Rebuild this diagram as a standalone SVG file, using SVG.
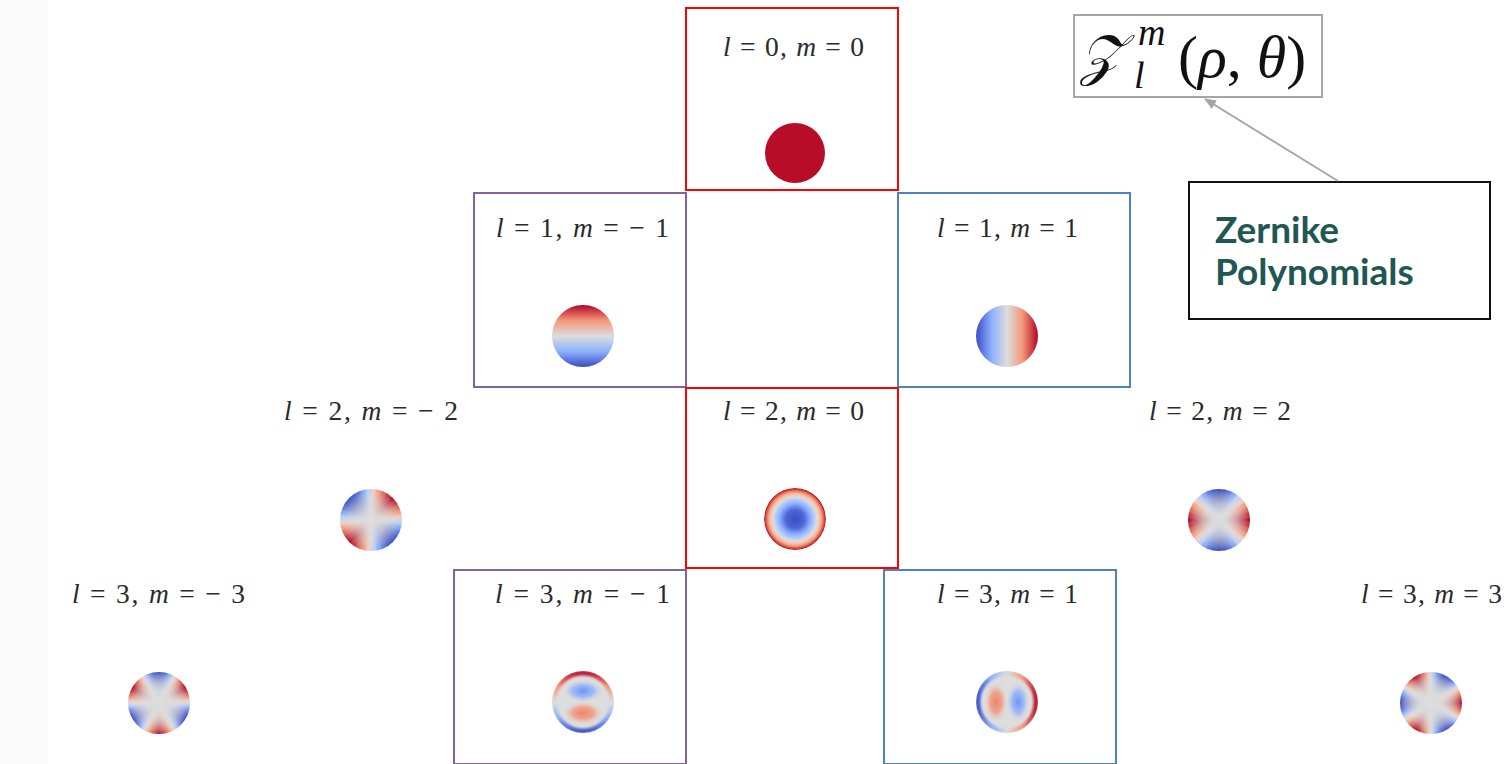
<svg xmlns="http://www.w3.org/2000/svg" xmlns:xlink="http://www.w3.org/1999/xlink" width="1506" height="764" viewBox="0 0 1506 764">
<style>
.lab{font-family:"Liberation Serif","DejaVu Serif",serif;font-size:27.5px;fill:#2a2a2a}
.i{font-style:italic}
.bx{fill:none;stroke-width:2}
.red{stroke:#ff0000}
.pur{stroke:#8064a2}
.blu{stroke:#4f81bd}
.zt{font-family:Lato,"Noto Sans",sans-serif;font-weight:700;font-size:37px;fill:#215753}
.fm{font-family:"Liberation Serif","DejaVu Serif","DejaVu Sans",serif;fill:#111}
.conn{fill:none;stroke:#a6a6a6;stroke-width:2}
</style>
<defs>
<marker id="ah" markerWidth="12" markerHeight="10" refX="11" refY="5" orient="auto" markerUnits="userSpaceOnUse"><path d="M0 0L12 5L0 10Z" fill="#a6a6a6"/></marker>
<clipPath id="cc"><circle r="31"/></clipPath>
<filter id="sf" x="-20%" y="-20%" width="140%" height="140%"><feGaussianBlur stdDeviation="0.8"/></filter>
<filter id="sf2" x="-20%" y="-20%" width="140%" height="140%"><feGaussianBlur stdDeviation="1"/></filter>
<path id="w2" d="M0 0L40 -3.8L40 3.8Z"/>
<path id="w3" d="M0 0L40 -2.4L40 2.4Z"/>
<g id="h2">
<use href="#w2" fill="#b40426"/>
<use href="#w2" transform="rotate(10)" fill="#c12b30"/>
<use href="#w2" transform="rotate(20)" fill="#e0654f"/>
<use href="#w2" transform="rotate(30)" fill="#f4987a"/>
<use href="#w2" transform="rotate(40)" fill="#efcfbf"/>
<use href="#w2" transform="rotate(50)" fill="#bad0f8"/>
<use href="#w2" transform="rotate(60)" fill="#80a3fa"/>
<use href="#w2" transform="rotate(70)" fill="#5572df"/>
<use href="#w2" transform="rotate(80)" fill="#4055c8"/>
<use href="#w2" transform="rotate(90)" fill="#3b4cc0"/>
<use href="#w2" transform="rotate(100)" fill="#4055c8"/>
<use href="#w2" transform="rotate(110)" fill="#5572df"/>
<use href="#w2" transform="rotate(120)" fill="#80a3fa"/>
<use href="#w2" transform="rotate(130)" fill="#bad0f8"/>
<use href="#w2" transform="rotate(140)" fill="#efcfbf"/>
<use href="#w2" transform="rotate(150)" fill="#f4987a"/>
<use href="#w2" transform="rotate(160)" fill="#e0654f"/>
<use href="#w2" transform="rotate(170)" fill="#c12b30"/>
</g>
<g id="p2"><use href="#h2"/><use href="#h2" transform="rotate(180)"/></g>
<g id="h3">
<use href="#w3" fill="#b40426"/>
<use href="#w3" transform="rotate(6)" fill="#be242e"/>
<use href="#w3" transform="rotate(12)" fill="#d85646"/>
<use href="#w3" transform="rotate(18)" fill="#ee8468"/>
<use href="#w3" transform="rotate(24)" fill="#f6bfa6"/>
<use href="#w3" transform="rotate(30)" fill="#dddddd"/>
<use href="#w3" transform="rotate(36)" fill="#a1c0ff"/>
<use href="#w3" transform="rotate(42)" fill="#7093f3"/>
<use href="#w3" transform="rotate(48)" fill="#4f69d9"/>
<use href="#w3" transform="rotate(54)" fill="#3f53c6"/>
<use href="#w3" transform="rotate(60)" fill="#3b4cc0"/>
<use href="#w3" transform="rotate(66)" fill="#3f53c6"/>
<use href="#w3" transform="rotate(72)" fill="#4f69d9"/>
<use href="#w3" transform="rotate(78)" fill="#7093f3"/>
<use href="#w3" transform="rotate(84)" fill="#a1c0ff"/>
<use href="#w3" transform="rotate(90)" fill="#dddddd"/>
<use href="#w3" transform="rotate(96)" fill="#f6bfa6"/>
<use href="#w3" transform="rotate(102)" fill="#ee8468"/>
<use href="#w3" transform="rotate(108)" fill="#d85646"/>
<use href="#w3" transform="rotate(114)" fill="#be242e"/>
</g>
<g id="p3"><use href="#h3"/><use href="#h3" transform="rotate(120)"/><use href="#h3" transform="rotate(240)"/></g>
<radialGradient id="ov2" cx="0" cy="0" r="31" gradientUnits="userSpaceOnUse">
<stop offset="0" stop-color="#dddddd" stop-opacity="1"/>
<stop offset="0.3" stop-color="#dddddd" stop-opacity="0.91"/>
<stop offset="0.5" stop-color="#dddddd" stop-opacity="0.75"/>
<stop offset="0.7" stop-color="#dddddd" stop-opacity="0.51"/>
<stop offset="0.85" stop-color="#dddddd" stop-opacity="0.28"/>
<stop offset="1" stop-color="#dddddd" stop-opacity="0"/>
</radialGradient>
<radialGradient id="ov3" cx="0" cy="0" r="31" gradientUnits="userSpaceOnUse">
<stop offset="0" stop-color="#dddddd" stop-opacity="1"/>
<stop offset="0.4" stop-color="#dddddd" stop-opacity="0.94"/>
<stop offset="0.6" stop-color="#dddddd" stop-opacity="0.78"/>
<stop offset="0.75" stop-color="#dddddd" stop-opacity="0.58"/>
<stop offset="0.85" stop-color="#dddddd" stop-opacity="0.39"/>
<stop offset="0.93" stop-color="#dddddd" stop-opacity="0.2"/>
<stop offset="1" stop-color="#dddddd" stop-opacity="0"/>
</radialGradient>
<linearGradient id="gx" x1="-31" y1="0" x2="31" y2="0" gradientUnits="userSpaceOnUse">
<stop offset="0" stop-color="#3b4cc0"/>
<stop offset="0.25" stop-color="#8db0fe"/>
<stop offset="0.5" stop-color="#dddddd"/>
<stop offset="0.75" stop-color="#f4987a"/>
<stop offset="1" stop-color="#b40426"/>
</linearGradient>
<radialGradient id="g20" cx="0" cy="0" r="31" gradientUnits="userSpaceOnUse">
<stop offset="0" stop-color="#3b4cc0"/>
<stop offset="0.3" stop-color="#4d67d8"/>
<stop offset="0.5" stop-color="#8db0fe"/>
<stop offset="0.6" stop-color="#a9c6fd"/>
<stop offset="0.707" stop-color="#dddddd"/>
<stop offset="0.8" stop-color="#f5c2aa"/>
<stop offset="0.87" stop-color="#f4987a"/>
<stop offset="0.93" stop-color="#dc5d4a"/>
<stop offset="1" stop-color="#b40426"/>
</radialGradient>
<radialGradient id="lobeR">
<stop offset="0" stop-color="#ee8468"/>
<stop offset="0.5" stop-color="#f29779" stop-opacity="0.8"/>
<stop offset="1" stop-color="#dddddd" stop-opacity="0"/>
</radialGradient>
<radialGradient id="lobeB">
<stop offset="0" stop-color="#7093f3"/>
<stop offset="0.5" stop-color="#8db0fe" stop-opacity="0.8"/>
<stop offset="1" stop-color="#dddddd" stop-opacity="0"/>
</radialGradient>
<g id="z31">
<circle r="31" fill="#dddddd"/>
<circle r="29" fill="none" stroke="url(#gx)" stroke-width="5" filter="url(#sf2)"/>
<ellipse cx="-11" cy="0" rx="12" ry="21" fill="url(#lobeR)"/>
<ellipse cx="11" cy="0" rx="12" ry="21" fill="url(#lobeB)"/>
</g>
</defs>
<rect x="0" y="0" width="1506" height="764" fill="#ffffff"/>
<rect x="0" y="0" width="48" height="764" fill="#fafafa"/>

<g id="n00">
<rect class="bx red" x="686" y="8" width="212" height="182"/>
<text class="lab" x="723" y="56" textLength="141" lengthAdjust="spacing"><tspan class="i">l</tspan> = 0, <tspan class="i">m</tspan> = 0</text>
<circle cx="795" cy="153" r="30" fill="#b70d28"/>
</g>

<g id="n1m1">
<rect class="bx pur" x="474" y="193" width="212" height="194"/>
<text class="lab" x="496" y="237" textLength="173" lengthAdjust="spacing"><tspan class="i">l</tspan> = 1, <tspan class="i">m</tspan> = − 1</text>
<g transform="translate(583,336)" clip-path="url(#cc)"><circle r="32" fill="url(#gx)" transform="rotate(-90)"/></g>
</g>

<g id="n11">
<rect class="bx blu" x="898" y="193" width="232" height="194"/>
<text class="lab" x="937" y="237" textLength="141" lengthAdjust="spacing"><tspan class="i">l</tspan> = 1, <tspan class="i">m</tspan> = 1</text>
<g transform="translate(1007,336)" clip-path="url(#cc)"><circle r="32" fill="url(#gx)"/></g>
</g>

<g id="n2m2">
<text class="lab" x="284" y="420" textLength="174" lengthAdjust="spacing"><tspan class="i">l</tspan> = 2, <tspan class="i">m</tspan> = − 2</text>
<g transform="translate(371,520)" clip-path="url(#cc)"><use href="#p2" transform="rotate(-45)" filter="url(#sf)"/><circle r="32" fill="url(#ov2)"/></g>
</g>

<g id="n20">
<rect class="bx red" x="686" y="388" width="212" height="180"/>
<text class="lab" x="723" y="420" textLength="141" lengthAdjust="spacing"><tspan class="i">l</tspan> = 2, <tspan class="i">m</tspan> = 0</text>
<g transform="translate(795,519)" clip-path="url(#cc)"><circle r="31" fill="url(#g20)"/></g>
</g>

<g id="n22">
<text class="lab" x="1149" y="420" textLength="142" lengthAdjust="spacing"><tspan class="i">l</tspan> = 2, <tspan class="i">m</tspan> = 2</text>
<g transform="translate(1219,520)" clip-path="url(#cc)"><use href="#p2" filter="url(#sf)"/><circle r="32" fill="url(#ov2)"/></g>
</g>

<g id="n3m3">
<text class="lab" x="72" y="603" textLength="173" lengthAdjust="spacing"><tspan class="i">l</tspan> = 3, <tspan class="i">m</tspan> = − 3</text>
<g transform="translate(159,703)" clip-path="url(#cc)"><use href="#p3" transform="rotate(90)" filter="url(#sf)"/><circle r="32" fill="url(#ov3)"/></g>
</g>

<g id="n3m1">
<rect class="bx pur" x="454" y="570" width="232" height="194"/>
<text class="lab" x="495" y="603" textLength="175" lengthAdjust="spacing"><tspan class="i">l</tspan> = 3, <tspan class="i">m</tspan> = − 1</text>
<g transform="translate(583,702)" clip-path="url(#cc)"><use href="#z31" transform="rotate(-90)"/></g>
</g>

<g id="n31">
<rect class="bx blu" x="884" y="570" width="232" height="194"/>
<text class="lab" x="937" y="603" textLength="141" lengthAdjust="spacing"><tspan class="i">l</tspan> = 3, <tspan class="i">m</tspan> = 1</text>
<g transform="translate(1007,702)" clip-path="url(#cc)"><use href="#z31"/></g>
</g>

<g id="n33">
<text class="lab" x="1361" y="603" textLength="141" lengthAdjust="spacing"><tspan class="i">l</tspan> = 3, <tspan class="i">m</tspan> = 3</text>
<g transform="translate(1431,703)" clip-path="url(#cc)"><use href="#p3" filter="url(#sf)"/><circle r="32" fill="url(#ov3)"/></g>
</g>

<g id="formula">
<rect x="1074" y="15" width="248" height="82" fill="#ffffff" stroke="#a6a6a6" stroke-width="2"/>
<text class="fm" x="1080" y="74" font-size="56" font-style="italic">𝒵</text>
<text class="fm" x="1138" y="45" font-size="38" font-style="italic">m</text>
<text class="fm" x="1134" y="88" font-size="38" font-style="italic">l</text>
<text class="fm" x="1178" y="77" font-size="60">(<tspan font-style="italic">ρ</tspan>, <tspan font-style="italic">θ</tspan>)</text>
</g>

<g id="zernike">
<rect x="1189" y="182" width="301" height="137" fill="#ffffff" stroke="#111111" stroke-width="2"/>
<text class="zt" x="1215" y="243">Zernike</text>
<text class="zt" x="1215" y="285">Polynomials</text>
</g>

<g id="connectors">
<path class="conn" d="M1338 181L1205 99" marker-end="url(#ah)"/>
</g>
</svg>
